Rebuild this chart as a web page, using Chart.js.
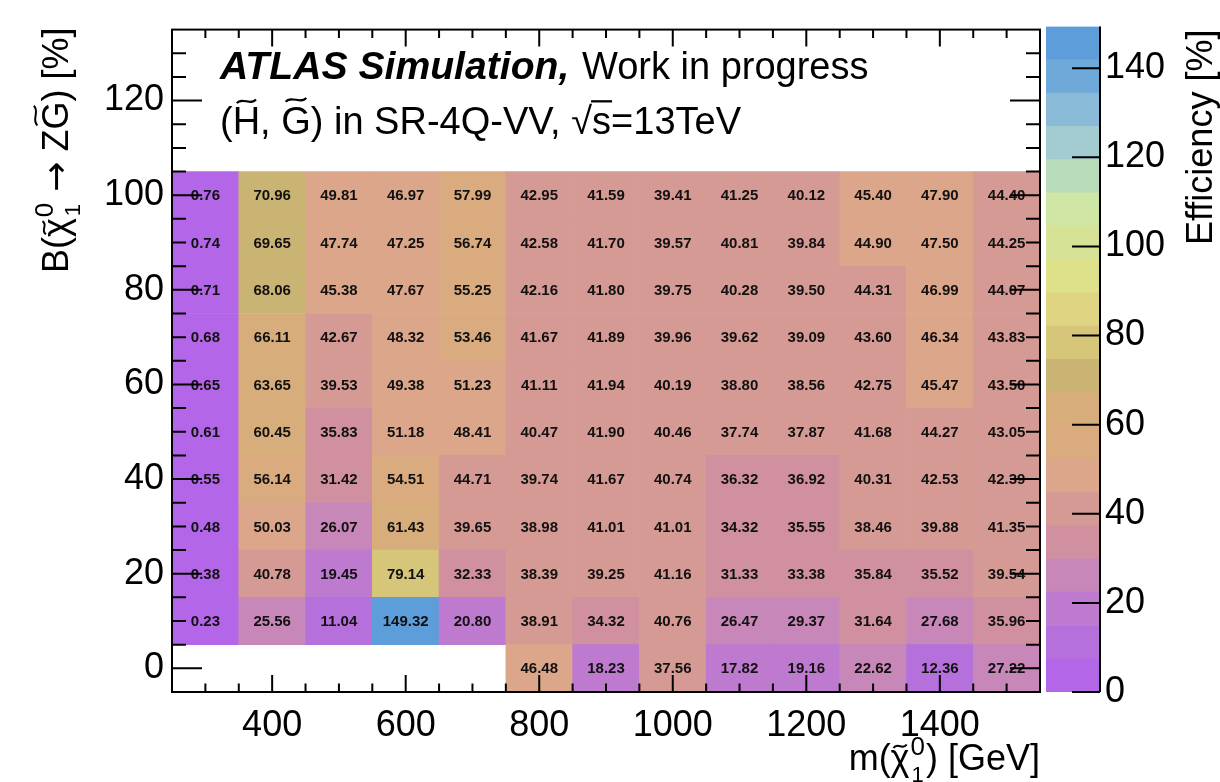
<!DOCTYPE html>
<html>
<head>
<meta charset="utf-8">
<script src="https://cdn.jsdelivr.net/npm/chart.js@4.4.1/dist/chart.umd.min.js"></script>
<style>
  html, body { margin: 0; padding: 0; background: #fff; }
  #wrap { position: relative; width: 1220px; height: 782px; overflow: hidden; }
  #effChart { position: absolute; left: 0; top: 0; }
  #zAxis { position: absolute; left: 1000px; top: 0; }
</style>
</head>
<body>
<div id="wrap">
  <canvas id="effChart" width="1220" height="782"></canvas>
  <canvas id="zAxis" width="220" height="782"></canvas>
</div>
<script>
// bin centres
const MASSES = [300, 400, 500, 600, 700, 800, 900, 1000, 1100, 1200, 1300, 1400, 1500];
const BR_VALUES = [100, 90, 80, 70, 60, 50, 40, 30, 20, 10, 0];

// signal efficiency [%], one row per branching ratio (same order as BR_VALUES)
const EFF_ROWS = [
  [0.76, 70.96, 49.81, 46.97, 57.99, 42.95, 41.59, 39.41, 41.25, 40.12, 45.40, 47.90, 44.40],
  [0.74, 69.65, 47.74, 47.25, 56.74, 42.58, 41.70, 39.57, 40.81, 39.84, 44.90, 47.50, 44.25],
  [0.71, 68.06, 45.38, 47.67, 55.25, 42.16, 41.80, 39.75, 40.28, 39.50, 44.31, 46.99, 44.07],
  [0.68, 66.11, 42.67, 48.32, 53.46, 41.67, 41.89, 39.96, 39.62, 39.09, 43.60, 46.34, 43.83],
  [0.65, 63.65, 39.53, 49.38, 51.23, 41.11, 41.94, 40.19, 38.80, 38.56, 42.75, 45.47, 43.50],
  [0.61, 60.45, 35.83, 51.18, 48.41, 40.47, 41.90, 40.46, 37.74, 37.87, 41.68, 44.27, 43.05],
  [0.55, 56.14, 31.42, 54.51, 44.71, 39.74, 41.67, 40.74, 36.32, 36.92, 40.31, 42.53, 42.39],
  [0.48, 50.03, 26.07, 61.43, 39.65, 38.98, 41.01, 41.01, 34.32, 35.55, 38.46, 39.88, 41.35],
  [0.38, 40.78, 19.45, 79.14, 32.33, 38.39, 39.25, 41.16, 31.33, 33.38, 35.84, 35.52, 39.54],
  [0.23, 25.56, 11.04, 149.32, 20.80, 38.91, 34.32, 40.76, 26.47, 29.37, 31.64, 27.68, 35.96],
  [null, null, null, null, null, 46.48, 18.23, 37.56, 17.82, 19.16, 22.62, 12.36, 27.22]
];

const X_TICKS = [400, 600, 800, 1000, 1200, 1400];
const Y_TICKS = [0, 20, 40, 60, 80, 100, 120];
const Z_TICKS = [0, 20, 40, 60, 80, 100, 120, 140];
const Z_MAX = 149.32;

// 20-level palette, lowest level first
const PALETTE = [
  '#b466e8', '#b670dc', '#be7ace', '#c787b8', '#d090a0',
  '#d69a94', '#dca68a', '#dbab80', '#d7ae7b', '#cab474',
  '#d5c67a', '#ded482', '#dfe08a', '#d6e296', '#cfe6a4',
  '#b8dbba', '#a2cccf', '#89bbd9', '#6fa9d9', '#5d9dd9'
];

const FONT = "'Liberation Sans', Arial, Helvetica, sans-serif";
const X_MINOR = 50;
const Y_MINOR = 5;
const Y_HALF_BIN = 5;

function effColor(v) {
  const i = Math.min(PALETTE.length - 1, Math.floor(v / Z_MAX * PALETTE.length));
  return PALETTE[i];
}

const cells = [];
BR_VALUES.forEach((br, r) => {
  MASSES.forEach((m, c) => {
    const v = EFF_ROWS[r][c];
    if (v === null) return;
    cells.push({ x: m, y: [br - Y_HALF_BIN, br + Y_HALF_BIN], br: br, eff: v });
  });
});

// text made of pieces: plain runs, tilde accents, stacked sup/sub
function drawRich(ctx, parts, x, y, size, dry) {
  let cx = x;
  const small = Math.round(size * 0.72);
  for (const p of parts) {
    if (p.sup !== undefined) {
      ctx.font = `${small}px ${FONT}`;
      const w = Math.max(ctx.measureText(p.sup).width, ctx.measureText(p.sub).width);
      if (!dry) {
        ctx.fillText(p.sup, cx + 1, y - size * 0.42);
        ctx.font = `${Math.round(size * 0.6)}px ${FONT}`;
        ctx.fillText(p.sub, cx + 2, y + size * 0.32);
      }
      cx += w + 2;
      continue;
    }
    ctx.font = `${size}px ${p.family || FONT}`;
    const w = ctx.measureText(p.t).width;
    if (!dry) {
      ctx.fillText(p.t, cx, y);
      if (p.tilde) drawTilde(ctx, cx + w / 2, y - size * p.tilde, w * 0.7, size);
      if (p.bar) {
        ctx.save();
        ctx.lineWidth = size * 0.06;
        ctx.beginPath();
        ctx.moveTo(cx - 1, y - size * 0.86);
        ctx.lineTo(cx + w + 1, y - size * 0.86);
        ctx.stroke();
        ctx.restore();
      }
    }
    cx += w;
  }
  return cx - x;
}

function drawTilde(ctx, cx, cy, w, size) {
  const a = size * 0.07;
  const x0 = cx - w / 2;
  ctx.save();
  ctx.lineWidth = size * 0.055;
  ctx.beginPath();
  ctx.moveTo(x0, cy + a * 0.7);
  ctx.bezierCurveTo(x0 + w * 0.3, cy - a * 1.8, x0 + w * 0.7, cy + a * 1.8, x0 + w, cy - a * 0.7);
  ctx.stroke();
  ctx.restore();
}

const cellLabels = {
  id: 'cellLabels',
  afterDatasetsDraw(chart) {
    const { ctx, scales: { x, y } } = chart;
    ctx.save();
    ctx.font = `bold 15px ${FONT}`;
    ctx.fillStyle = '#111';
    ctx.textAlign = 'center';
    ctx.textBaseline = 'middle';
    cells.forEach(c => {
      ctx.fillText(c.eff.toFixed(2), x.getPixelForValue(c.x), y.getPixelForValue(c.br) + 1);
    });
    ctx.restore();
  }
};

// frame with inward ticks on all four sides
const frameTicks = {
  id: 'frameTicks',
  afterDatasetsDraw(chart) {
    const { ctx, chartArea: a, scales: { x, y } } = chart;
    ctx.save();
    ctx.strokeStyle = '#000';
    ctx.lineWidth = 2;
    ctx.beginPath();
    for (let m = x.min + X_MINOR; m < x.max; m += X_MINOR) {
      const px = x.getPixelForValue(m);
      const len = X_TICKS.includes(m) ? 17 : 8.5;
      ctx.moveTo(px, a.bottom);
      ctx.lineTo(px, a.bottom - len);
      ctx.moveTo(px, a.top);
      ctx.lineTo(px, a.top + len);
    }
    for (let b = y.min + Y_MINOR; b < y.max; b += Y_MINOR) {
      const py = y.getPixelForValue(b);
      const len = Y_TICKS.includes(b) ? 30 : 14;
      ctx.moveTo(a.left, py);
      ctx.lineTo(a.left + len, py);
      ctx.moveTo(a.right, py);
      ctx.lineTo(a.right - len, py);
    }
    ctx.stroke();
    ctx.strokeRect(a.left, a.top, a.right - a.left, a.bottom - a.top);
    ctx.restore();
  }
};

const titles = {
  id: 'titles',
  afterDraw(chart) {
    const { ctx, chartArea: a } = chart;
    ctx.save();
    ctx.fillStyle = '#000';
    ctx.strokeStyle = '#000';
    ctx.textAlign = 'left';
    ctx.textBaseline = 'alphabetic';

    ctx.font = `italic bold 38px ${FONT}`;
    ctx.save();
    ctx.translate(220, 79);
    ctx.scale(1.03, 1);
    ctx.fillText('ATLAS Simulation,', 0, 0);
    ctx.restore();
    ctx.font = `38px ${FONT}`;
    ctx.fillText('Work in progress', 582, 79);

    drawRich(ctx, [
      { t: '(' }, { t: 'H', tilde: 0.86 }, { t: ', ' }, { t: 'G', tilde: 0.9 },
      { t: ') in SR-4Q-VV, \u221A' }, { t: 's', bar: true }, { t: '=13TeV' }
    ], 220, 134, 38);

    // x-axis title, right aligned to the frame
    const xParts = [{ t: 'm(' }, { t: '\u03C7', tilde: 0.66 }, { sup: '0', sub: '1' }, { t: ') [GeV]' }];
    const xw = drawRich(ctx, xParts, 0, 0, 36, true);
    drawRich(ctx, xParts, a.right - xw, 770, 36);

    // y-axis title, rotated, ending at the frame top
    const yParts = [
      { t: 'B(' }, { t: '\u03C7', tilde: 0.66 }, { sup: '0', sub: '1' },
      { t: ' ' }, { t: '\u2192', family: "'DejaVu Sans', sans-serif" }, { t: ' Z' },
      { t: 'G', tilde: 0.9 }, { t: ') [%]' }
    ];
    const yw = drawRich(ctx, yParts, 0, 0, 36, true);
    ctx.translate(68, a.top - 2);
    ctx.rotate(-Math.PI / 2);
    drawRich(ctx, yParts, -yw, 0, 36);
    ctx.restore();
  }
};

new Chart(document.getElementById('effChart'), {
  type: 'bar',
  data: {
    datasets: [{
      data: cells,
      backgroundColor: cells.map(c => effColor(c.eff)),
      borderWidth: 0,
      categoryPercentage: 1,
      barPercentage: 1
    }]
  },
  options: {
    responsive: false,
    animation: false,
    layout: { padding: { left: 0, right: 180, top: 22, bottom: 0 } },
    plugins: { legend: { display: false }, tooltip: { enabled: false } },
    scales: {
      x: {
        type: 'linear',
        min: 250,
        max: 1550,
        offset: false,
        grid: { display: false, drawTicks: false },
        border: { display: false },
        ticks: {
          color: '#000',
          font: { family: FONT, size: 36 },
          padding: 12,
          maxRotation: 0,
          autoSkip: false,
          callback: v => String(v)
        },
        afterBuildTicks: s => { s.ticks = X_TICKS.map(v => ({ value: v })); },
        afterFit: s => { s.height = 90; }
      },
      y: {
        type: 'linear',
        min: -5,
        max: 135,
        grid: { display: false, drawTicks: false },
        border: { display: false },
        ticks: {
          color: '#000',
          font: { family: FONT, size: 36 },
          padding: 8,
          autoSkip: false,
          callback: v => String(v)
        },
        afterBuildTicks: s => { s.ticks = Y_TICKS.map(v => ({ value: v })); },
        afterFit: s => { s.width = 172; }
      }
    }
  },
  plugins: [cellLabels, frameTicks, titles]
});

// colour scale
const zFrame = {
  id: 'zFrame',
  afterDatasetsDraw(chart) {
    const { ctx, chartArea: a, scales: { y } } = chart;
    ctx.save();
    ctx.strokeStyle = '#000';
    ctx.lineWidth = 2;
    ctx.beginPath();
    ctx.moveTo(a.right, a.top);
    ctx.lineTo(a.right, a.bottom);
    Z_TICKS.forEach(v => {
      const py = y.getPixelForValue(v);
      ctx.moveTo(a.right, py);
      ctx.lineTo(a.right - 28, py);
    });
    ctx.stroke();

    ctx.fillStyle = '#000';
    ctx.font = `36px ${FONT}`;
    ctx.textAlign = 'right';
    ctx.textBaseline = 'alphabetic';
    ctx.translate(212, a.top + 3);
    ctx.rotate(-Math.PI / 2);
    ctx.fillText('Efficiency [%]', 0, 0);
    ctx.restore();
  }
};

new Chart(document.getElementById('zAxis'), {
  type: 'bar',
  data: {
    labels: [''],
    datasets: PALETTE.map((col, i) => ({
      data: [[i * Z_MAX / PALETTE.length, (i + 1) * Z_MAX / PALETTE.length]],
      backgroundColor: col,
      borderWidth: 0,
      grouped: false,
      categoryPercentage: 1,
      barPercentage: 1
    }))
  },
  options: {
    responsive: false,
    animation: false,
    layout: { padding: { left: 46, right: 0, top: 22, bottom: 90 } },
    plugins: { legend: { display: false }, tooltip: { enabled: false } },
    scales: {
      x: { display: false },
      y: {
        position: 'right',
        min: 0,
        max: Z_MAX,
        grid: { display: false, drawTicks: false },
        border: { display: false },
        ticks: {
          color: '#000',
          font: { family: FONT, size: 36 },
          padding: 5,
          autoSkip: false,
          callback: v => String(v)
        },
        afterBuildTicks: s => { s.ticks = Z_TICKS.map(v => ({ value: v })); },
        afterFit: s => { s.width = 120; }
      }
    }
  },
  plugins: [zFrame]
});
</script>
</body>
</html>
